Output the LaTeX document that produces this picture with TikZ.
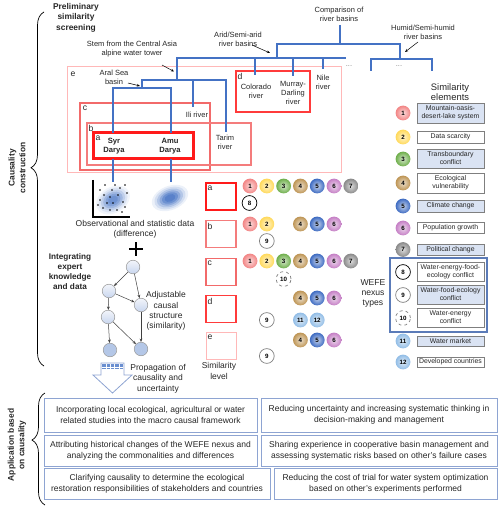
\documentclass[tikz,border=0pt]{standalone}
\usepackage{fontspec}
\setmainfont{Liberation Sans}
\usetikzlibrary{arrows.meta,decorations.pathreplacing}
\definecolor{treeblue}{HTML}{4472C4}
\definecolor{txt}{HTML}{262626}
\definecolor{lbblue}{HTML}{DAE3F3}
\definecolor{appblue}{HTML}{8EA4D2}
\definecolor{legline}{HTML}{7F7F7F}
\definecolor{frameblue}{HTML}{5B7BB8}
\definecolor{cA}{HTML}{FF1A1A}
\definecolor{cB}{HTML}{F47C7C}
\definecolor{cC}{HTML}{F26A6A}
\definecolor{cD}{HTML}{FF3B3B}
\definecolor{cE}{HTML}{FFB8B8}
\definecolor{k1}{HTML}{F28585}
\definecolor{k2}{HTML}{FFD95A}
\definecolor{k3}{HTML}{6FAF4C}
\definecolor{k4}{HTML}{BE9555}
\definecolor{k5}{HTML}{3F6CC2}
\definecolor{k6}{HTML}{C57FC5}
\definecolor{k7}{HTML}{8A8A8A}
\definecolor{k11}{HTML}{92BDE6}
\definecolor{k12}{HTML}{92BDE6}
\definecolor{gtop}{HTML}{F2F5FB}
\definecolor{gbot}{HTML}{C9D6EE}
\definecolor{gdark}{HTML}{B4C7E7}
\begin{document}
\begin{tikzpicture}[x=1pt,y=-1pt,
  tree/.style={draw=treeblue, line width=1.6pt},
  lbl/.style={font=\fontsize{7.5}{9}\selectfont, align=center, text=txt, inner sep=0pt},
  hd/.style={font=\bfseries\fontsize{8.4}{10.6}\selectfont, align=center, text=txt, inner sep=0pt},
  mid/.style={font=\fontsize{8.5}{10.3}\selectfont, align=center, text=txt, inner sep=0pt},
  lett/.style={font=\fontsize{8.6}{9}\selectfont, text=txt, inner sep=0pt},
  numb/.style={circle, inner sep=0pt, minimum size=14.8pt, font=\bfseries\fontsize{6.2}{6.5}\selectfont, inner color=#1!30!white, outer color=#1},
  wnum/.style={circle, inner sep=0pt, minimum size=14.8pt, font=\bfseries\fontsize{6.2}{6.5}\selectfont, fill=white, draw=#1, line width=0.7pt},
  legbox/.style={draw=legline, line width=0.9pt, minimum width=67pt, align=center, inner sep=0pt, font=\fontsize{6.9}{8}\selectfont, text=txt},
  appbox/.style={draw=appblue, line width=1pt, align=center, inner sep=0pt, font=\fontsize{8.5}{11}\selectfont, text=txt},
  lvl/.style={draw=#1, minimum width=30pt, minimum height=27pt, inner sep=0pt},
  tarr/.style={-{Stealth[length=3.2pt,width=2.6pt]}, line width=0.5pt, draw=black},
  gnode/.style={circle, draw=gray!80, line width=0.5pt, minimum size=13.6pt, inner sep=0pt, top color=gtop, bottom color=gbot},
  garr/.style={-{Stealth[length=3.4pt,width=2.8pt]}, line width=0.5pt, draw=black!75},
]
\useasboundingbox (0,0) rectangle (500,510);

% ---------- left headings and braces
\node[hd, rotate=90] (causal) at (17,168) {Causality\\construction};
\node[hd, rotate=90] (appl) at (17,445) {Application based\\on causality};
\coordinate (br1a) at (44,366);
\coordinate (br1b) at (44,12);
\coordinate (br2a) at (45,505);
\coordinate (br2b) at (45,393);
\draw[decorate, decoration={brace, amplitude=13pt, aspect=0.56}, line width=0.7pt] (br1a) -- (br1b);
\draw[decorate, decoration={brace, amplitude=13pt, aspect=0.58}, line width=0.7pt] (br2a) -- (br2b);
\node[hd] (prelim) at (76,17.5) {Preliminary\\similarity\\screening};

% ---------- region boxes of the tree
\draw[draw=cE, line width=1pt] (67,67) rectangle (341,173);
\draw[draw=cC, line width=1.2pt] (80,103) rectangle (210,170);
\draw[draw=cB, line width=1.2pt] (87,123) rectangle (251,165);
\draw[draw=cA, line width=3pt] (93,133) rectangle (193,159);
\draw[draw=cD, line width=1.6pt] (236,71) rectangle (310,112);
\node[lett] (le) at (73,74) {e};
\node[lett] (lc) at (85,108) {c};
\node[lett] (lb) at (91,128) {b};
\node[lett] (la) at (98,138) {a};
\node[lett] (ld) at (240,76) {d};

% ---------- tree labels
\node[lbl] (comp) at (339,14) {Comparison of\\river basins};
\node[lbl] (arid) at (238,39.5) {Arid/Semi-arid\\river basins};
\node[lbl] (humid) at (423,32) {Humid/Semi-humid\\river basins};
\node[lbl] (stem) at (132,49.5) {Stem from the Central Asia\\alpine water tower};
\node[lbl] (aral) at (114,77.5) {Aral Sea\\basin};
\node[lbl] (ili) at (197,114.5) {Ili river};
\node[lbl] (tarim) at (225,142.5) {Tarim\\river};
\node[lbl] (colo) at (256,91.5) {Colorado\\river};
\node[lbl] (murray) at (293,93) {Murray-\\Darling\\river};
\node[lbl] (nile) at (323,82.5) {Nile\\river};
\node[hd, font=\bfseries\fontsize{7.6}{8.8}\selectfont] (syr) at (114,146.5) {Syr\\Darya};
\node[hd, font=\bfseries\fontsize{7.6}{8.8}\selectfont] (amu) at (170,146.5) {Amu\\Darya};
\node[lbl, text=gray] (dots1) at (349,66.5) {...};
\node[lbl, text=gray] (dots2) at (399,66.5) {...};

% ---------- tree lines
\coordinate (t0) at (340,25);
\coordinate (t1) at (340,44);
\draw[tree] (t0) -- (t1);
\draw[tree] (277,58) -- (277,44) -- (400,44) -- (400,59);
\draw[tree] (177,80) -- (177,58) -- (346,58);
\draw[tree] (255,58) -- (255,75);
\draw[tree] (293,58) -- (293,76);
\draw[tree] (323,58) -- (323,69);
\draw[tree] (371,71) -- (371,59) -- (432,59) -- (432,71);
\draw[tree] (142,88) -- (142,80) -- (226,80) -- (226,132);
\draw[tree] (193,80) -- (193,107);
\draw[tree] (113,133) -- (113,88) -- (171,88) -- (171,133);
\coordinate (syrbot) at (113,182);
\coordinate (amubot) at (171,182);
\draw[tree] (113,159) -- (syrbot);
\draw[tree] (171,159) -- (amubot);

% ---------- label arrows
\coordinate (s1) at (162,65); \coordinate (s2) at (174,71.5);
\coordinate (a1) at (128,83); \coordinate (a2) at (140,86);
\coordinate (r1) at (252,45); \coordinate (r2) at (270,53);
\coordinate (h1) at (418,42); \coordinate (h2) at (405,52);
\draw[tarr] (s1) -- (s2);
\draw[tarr] (a1) -- (a2);
\draw[tarr] (r1) -- (r2);
\draw[tarr] (h1) -- (h2);

% ---------- data pictures
\foreach \s/\o in {1/0.08,0.86/0.12,0.72/0.18,0.58/0.25,0.44/0.3,0.3/0.35}
  \fill[treeblue, opacity=\o, rotate around={30:(113,200)}] (113,200) ellipse ({18*\s} and {13*\s});
\foreach \px/\py in {100/190,105/185,115/185,120/188,125/185,127/193,118/195,110/197,100/200,107/203,113/203,123/202,103/208,110/210,117/210,125/207,98/205,112/190,122/212,104/195}
  \fill[black] (\px,\py) circle (0.8);
\draw[line width=1.3pt] (93,180) -- (93,217) -- (130,217);
\foreach \s/\o in {1/0.1,0.86/0.15,0.72/0.22,0.58/0.32,0.44/0.45,0.3/0.5}
  \fill[treeblue, opacity=\o, rotate around={22:(170,198)}] (170,198) ellipse ({19*\s} and {12*\s});
\node[mid] (obs) at (135,229) {Observational and statistic data\\(difference)};
\draw[line width=1.2pt] (129,249) -- (143,249) (136,242) -- (136,256);

% ---------- causal graph
\node[hd, font=\bfseries\fontsize{8.2}{10}\selectfont] (integ) at (70,272) {Integrating\\expert\\knowledge\\and data};
\node[gnode] (g1) at (133,267) {};
\node[gnode] (g2) at (109,291) {};
\node[gnode] (g3) at (141,305) {};
\node[gnode] (g4) at (108,317) {};
\node[gnode, top color=gdark, bottom color=gdark] (g5) at (110,350) {};
\node[gnode, top color=gdark, bottom color=gdark] (g6) at (141,349) {};
\draw[garr] (g1) -- (g2);
\draw[garr] (g1) -- (g3);
\draw[garr] (g2) -- (g3);
\draw[garr] (g2) -- (g4);
\draw[garr] (g4) -- (g5);
\draw[garr] (g4) -- (g6);
\draw[garr] (g3) -- (g6);
\node[mid] (adj) at (166,311) {Adjustable\\causal\\structure\\(similarity)};

% ---------- propagation arrow
\draw[draw=appblue, line width=0.8pt, fill=white] (101,363) -- (124,363) -- (124,375) -- (132,375) -- (112.5,393) -- (93,375) -- (101,375) -- cycle;
\foreach \yy in {364,365.3,366.6,367.9}
  \draw[treeblue!80, line width=0.45pt, dash pattern=on 0.8pt off 0.5pt] (101.5,\yy) -- (123.5,\yy);
\node[mid] (prop) at (158,378.5) {Propagation of\\causality and\\uncertainty};

% ---------- similarity level column
\node[lvl=cA, line width=2.6pt] (sa) at (221,196.5) {};
\node[lvl=cB, line width=1.1pt] (sb) at (221,234) {};
\node[lvl=cC, line width=1.1pt] (sc) at (221,272) {};
\node[lvl=cD, line width=1.6pt] (sd) at (221,309) {};
\node[lvl=cE, line width=1pt] (se) at (221,346) {};
\node[lett, anchor=north west] (tsa) at (207.5,185.5) {a};
\node[lett, anchor=north west] (tsb) at (207.5,223) {b};
\node[lett, anchor=north west] (tsc) at (207.5,261) {c};
\node[lett, anchor=north west] (tsd) at (207.5,298) {d};
\node[lett, anchor=north west] (tse) at (207.5,335) {e};
\node[mid] (simlev) at (219,371) {Similarity\\level};

% ---------- numbered circles by level
\foreach \n/\x in {1/250,2/266.8,3/283.6,4/300.4,5/317.2,6/334,7/350.8}
  \node[numb=k\n] (ra\n) at (\x,186) {\n};
\node[wnum=black] (ra8) at (249.5,203) {8};
\foreach \n/\x in {1/250,2/266.8,4/300.4,5/317.2,6/334}
  \node[numb=k\n] (rb\n) at (\x,224) {\n};
\node[wnum=gray] (rb9) at (266.8,241) {9};
\foreach \n/\x in {1/250,2/266.8,3/283.6,4/300.4,5/317.2,6/334,7/350.8}
  \node[numb=k\n] (rc\n) at (\x,261) {\n};
\node[wnum=gray, dashed] (rc10) at (283.6,279) {10};
\foreach \n/\x in {4/300.4,5/317.2,6/334}
  \node[numb=k\n] (rd\n) at (\x,298) {\n};
\node[wnum=gray] (rd9) at (266.8,320) {9};
\node[numb=k11] (rd11) at (300.4,320) {11};
\node[numb=k12] (rd12) at (317.2,320) {12};
\foreach \n/\x in {4/300.4,5/317.2,6/334}
  \node[numb=k\n] (re\n) at (\x,340) {\n};
\node[wnum=gray] (re9) at (266.8,356) {9};
\node[mid, font=\fontsize{8.6}{10}\selectfont] (wefe) at (373,293) {WEFE\\nexus\\types};

% ---------- legend
\node[font=\fontsize{9.4}{10.5}\selectfont, align=center, text=txt, inner sep=0pt] (simel) at (450,92) {Similarity\\elements};
\draw[draw=frameblue, line width=1.2pt] (390,258) rectangle (487,332);
\node[numb=k1] (L1) at (403,113) {1};
\node[legbox, fill=lbblue, minimum height=20pt] (B1) at (450.5,113) {Mountain-oasis-\\desert-lake system};
\node[numb=k2] (L2) at (403,137) {2};
\node[legbox, minimum height=12pt] (B2) at (450.5,137) {Data scarcity};
\node[numb=k3] (L3) at (403,159) {3};
\node[legbox, fill=lbblue, minimum height=19pt] (B3) at (450.5,158.5) {Transboundary\\conflict};
\node[numb=k4] (L4) at (403,183) {4};
\node[legbox, minimum height=20pt] (B4) at (450.5,183) {Ecological\\vulnerability};
\node[numb=k5] (L5) at (403,206) {5};
\node[legbox, fill=lbblue, minimum height=12pt] (B5) at (450.5,206) {Climate change};
\node[numb=k6] (L6) at (403,228) {6};
\node[legbox, minimum height=11pt] (B6) at (450.5,228) {Population growth};
\node[numb=k7] (L7) at (403,249.5) {7};
\node[legbox, fill=lbblue, minimum height=11pt] (B7) at (450.5,249.5) {Political change};
\node[wnum=black] (L8) at (403,272) {8};
\node[legbox, minimum height=19pt] (B8) at (450.5,271.5) {Water-energy-food-\\ecology conflict};
\node[wnum=gray] (L9) at (403,295) {9};
\node[legbox, fill=lbblue, minimum height=19pt] (B9) at (450.5,294.5) {Water-food-ecology\\conflict};
\node[wnum=gray, dashed] (L10) at (403,318) {10};
\node[legbox, minimum height=19pt] (B10) at (450.5,317.5) {Water-energy\\conflict};
\node[numb=k11] (L11) at (403,341) {11};
\node[legbox, fill=lbblue, minimum height=10pt] (B11) at (450.5,341) {Water market};
\node[numb=k12] (L12) at (403,362) {12};
\node[legbox, minimum height=10pt] (B12) at (450.5,362) {Developed countries};

% ---------- applications
\node[appbox, minimum width=213pt, minimum height=34pt] (ap1) at (150.5,415) {Incorporating local ecological, agricultural or water\\related studies into the macro causal framework};
\node[appbox, minimum width=236pt, minimum height=34pt] (ap2) at (379,415) {Reducing uncertainty and increasing systematic thinking in\\decision-making and management};
\node[appbox, minimum width=213pt, minimum height=31pt] (ap3) at (150.5,450.5) {Attributing historical changes of the WEFE nexus and\\analyzing the commonalities and differences};
\node[appbox, minimum width=236pt, minimum height=31pt] (ap4) at (379,450.5) {Sharing experience in cooperative basin management and\\assessing systematic risks based on other's failure cases};
\node[appbox, minimum width=226pt, minimum height=31pt] (ap5) at (157,483.5) {Clarifying causality to determine the ecological\\restoration responsibilities of stakeholders and countries};
\node[appbox, minimum width=223pt, minimum height=31pt] (ap6) at (385.5,483.5) {Reducing the cost of trial for water system optimization\\based on other's experiments performed};
\end{tikzpicture}
\end{document}
